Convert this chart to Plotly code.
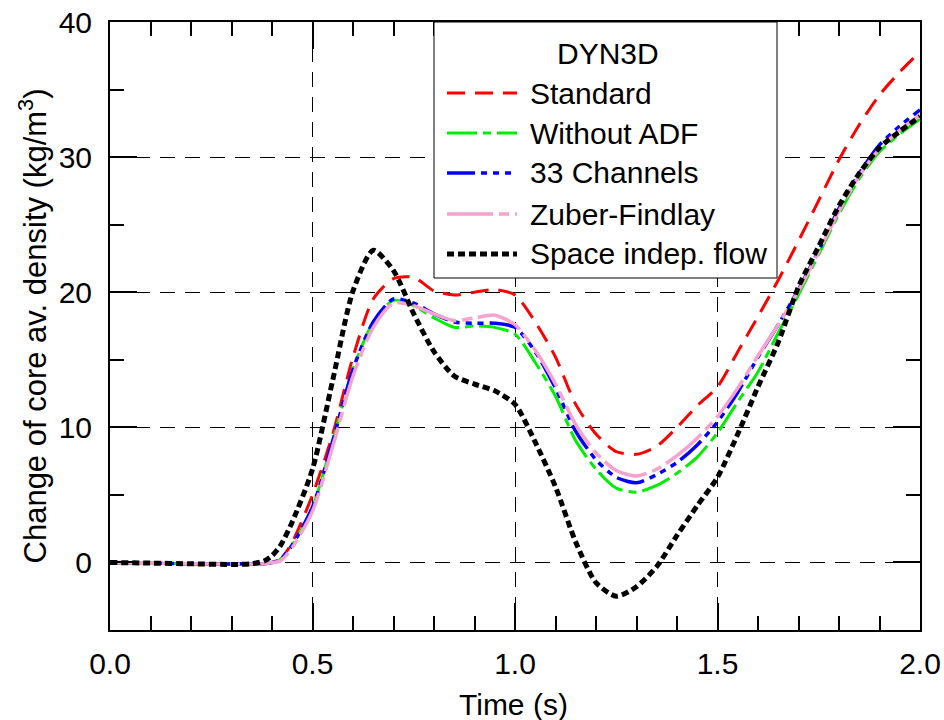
import plotly.graph_objects as go

# ---- data ----
time_s = [0.0, 0.1, 0.2, 0.3, 0.35, 0.38, 0.4, 0.42, 0.45, 0.5, 0.55, 0.6, 0.65, 0.7, 0.75,
          0.8, 0.85, 0.9, 0.95, 1.0, 1.05, 1.1, 1.15, 1.2, 1.25, 1.3, 1.35, 1.4, 1.45,
          1.5, 1.55, 1.6, 1.65, 1.7, 1.75, 1.8, 1.85, 1.9, 1.95, 2.0]

standard = [0.0, -0.05, -0.1, -0.12, -0.12, -0.1, 0.0, 0.2, 1.5, 5.0, 9.5, 15.2, 19.5, 21.0, 21.1,
            20.1, 19.8, 20.0, 20.2, 19.8, 17.8, 15.2, 11.7, 9.5, 8.2, 8.0, 8.6, 10.0, 11.6,
            13.0, 15.6, 18.2, 20.9, 23.8, 26.8, 29.8, 32.4, 34.6, 36.3, 37.8]

without_adf = [0.0, -0.05, -0.1, -0.12, -0.12, -0.1, 0.0, 0.2, 1.3, 4.1, 9.0, 14.3, 17.8, 19.4, 19.0,
               18.1, 17.4, 17.5, 17.4, 16.9, 14.8, 12.3, 9.0, 6.9, 5.5, 5.2, 5.7, 6.6, 7.8,
               9.6, 11.9, 14.1, 17.0, 19.8, 22.8, 25.8, 28.4, 30.4, 31.7, 32.8]

channels_33 = [0.0, -0.05, -0.1, -0.12, -0.12, -0.1, 0.0, 0.2, 1.3, 4.1, 9.0, 14.3, 17.8, 19.5, 19.2,
               18.4, 17.8, 17.7, 17.7, 17.4, 15.6, 12.9, 9.7, 7.6, 6.3, 5.9, 6.5, 7.4, 8.7,
               10.4, 12.6, 15.2, 17.6, 20.2, 23.1, 26.2, 28.8, 30.9, 32.3, 33.5]

zuber_findlay = [0.0, -0.05, -0.1, -0.12, -0.12, -0.1, 0.0, 0.1, 1.1, 3.8, 8.6, 13.8, 17.4, 19.2, 19.0,
                 18.4, 17.9, 18.1, 18.3, 17.6, 15.7, 13.2, 10.2, 8.1, 6.8, 6.4, 6.9, 7.9, 9.2,
                 10.8, 12.9, 15.3, 17.6, 20.1, 23.0, 26.0, 28.6, 30.6, 32.0, 33.1]

space_indep = [0.0, -0.05, -0.1, -0.15, -0.1, 0.1, 0.5, 1.2, 3.0, 6.9, 13.5, 20.1, 23.1, 21.6, 18.4,
               15.6, 13.8, 13.2, 12.7, 11.7, 8.9, 5.6, 1.5, -1.5, -2.5, -1.8, -0.3, 2.0, 4.2,
               6.3, 9.5, 13.0, 16.3, 20.4, 23.4, 26.4, 28.8, 30.7, 31.9, 33.0]

legend_title = "DYN3D"
x_title = "Time (s)"
y_title = "Change of core av. density (kg/m<sup>3</sup>)"
series_names = ["Standard", "Without ADF", "33 Channels", "Zuber-Findlay", "Space indep. flow"]
series_values = [standard, without_adf, channels_33, zuber_findlay, space_indep]
series_colors = ["#ff0000", "#00ee00", "#0000ff", "#f7a1cf", "#000000"]
series_dash = ["18px,10px", "30px,6px,8px,6px", "28px,6px,6px,6px,6px,6px,6px,6px",
               "46px,6px,10px,6px", "7px,4px"]
series_width = [3, 3, 3.5, 3.5, 5]

x_ticks = [0.0, 0.5, 1.0, 1.5, 2.0]
y_ticks = [0, 10, 20, 30, 40]

FONT = "Liberation Sans, Arial, sans-serif"
FS = 30

fig = go.Figure()
for name, vals, col, dash, w in zip(series_names, series_values, series_colors, series_dash, series_width):
    fig.add_trace(go.Scatter(x=time_s, y=vals, mode="lines", name=name, showlegend=False,
                             line=dict(color=col, dash=dash, width=w, shape="spline", smoothing=0.7)))

# ---- manual legend (paper coordinates) ----
L, T, W, H = 110, 22, 810, 608
def px(x):
    return (x - L) / W
def py(y):
    return (T + H - y) / H

shapes = [dict(type="rect", xref="paper", yref="paper", x0=px(434), x1=px(777), y0=py(278), y1=py(22),
               fillcolor="white", line=dict(color="black", width=1), layer="above")]
annotations = [dict(xref="paper", yref="paper", x=px(608), y=py(53), text=legend_title, showarrow=False,
                    xanchor="center", yanchor="middle", font=dict(size=FS, color="black", family=FONT)),
               dict(xref="paper", yref="paper", x=px(513), y=py(704), text=x_title, showarrow=False,
                    xanchor="center", yanchor="middle", font=dict(size=FS, color="black", family=FONT))]
row_y = [93, 133, 173, 214, 254]
for name, col, dash, w, ry in zip(series_names, series_colors, series_dash, series_width, row_y):
    shapes.append(dict(type="line", xref="paper", yref="paper", x0=px(447), x1=px(517), y0=py(ry), y1=py(ry),
                       line=dict(color=col, dash=dash, width=w), layer="above"))
    annotations.append(dict(xref="paper", yref="paper", x=px(528), y=py(ry), text=name, showarrow=False,
                            xanchor="left", yanchor="middle", font=dict(size=FS, color="black", family=FONT)))

axis_common = dict(showline=True, linecolor="black", linewidth=2, mirror="ticks",
                   ticks="inside", ticklen=27, tickwidth=1.5, tickcolor="black",
                   showgrid=True, gridcolor="black", gridwidth=1, griddash="15px,10px",
                   zeroline=False, automargin=False, tickfont=dict(size=FS, color="black", family=FONT))

fig.update_xaxes(range=[0, 2], tickvals=x_ticks, ticktext=[f"{v:.1f}" for v in x_ticks],
                 minor=dict(dtick=0.1, ticks="inside", ticklen=14, tickcolor="black", tickwidth=1.5, showgrid=False),
                 ticklabelstandoff=6, **axis_common)
fig.update_yaxes(range=[-5, 40], tickvals=y_ticks,
                 minor=dict(dtick=5, tick0=0, ticks="inside", ticklen=14, tickcolor="black", tickwidth=1.5, showgrid=False),
                 title=dict(text=y_title, font=dict(size=31, color="black", family=FONT), standoff=3),
                 ticklabelstandoff=10, **axis_common)

fig.update_layout(width=944, height=720, margin=dict(l=L, r=944 - L - W, t=T, b=720 - T - H),
                  paper_bgcolor="white", plot_bgcolor="white", shapes=shapes, annotations=annotations,
                  font=dict(family=FONT, color="black"))

fig.write_html("out.html")
